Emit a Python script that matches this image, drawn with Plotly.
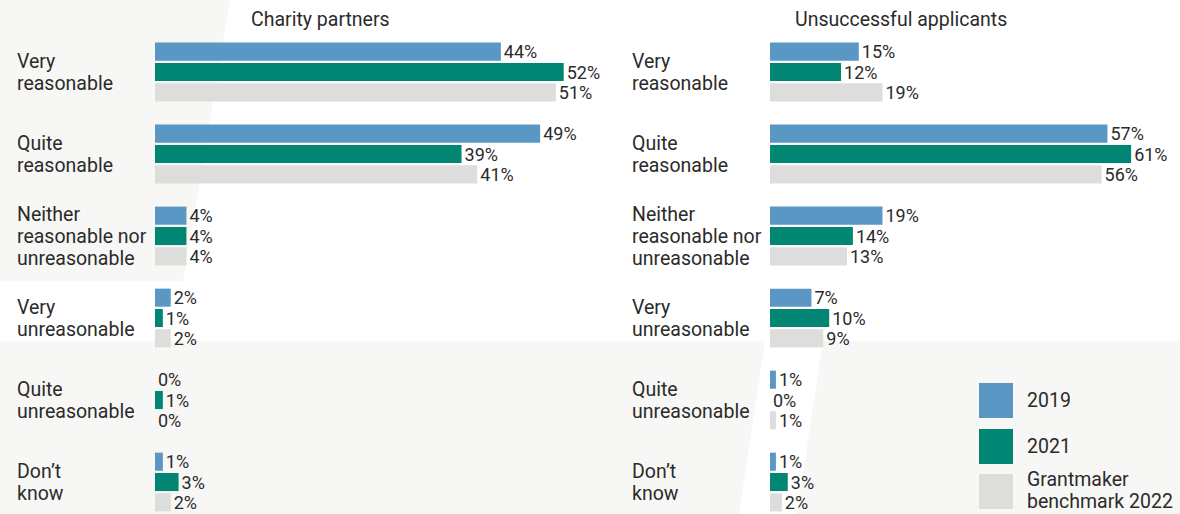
import plotly.graph_objects as go

W, H = 1180, 514

categories = ["Very<br>reasonable", "Quite<br>reasonable",
              "Neither<br>reasonable nor<br>unreasonable", "Very<br>unreasonable",
              "Quite<br>unreasonable", "Don’t<br>know"]
cat_keys = ["Very reasonable", "Quite reasonable", "Neither", "Very unreasonable",
            "Quite unreasonable", "Don't know"]

series_names = ["2019", "2021", "Grantmaker<br>benchmark 2022"]
series_colors = ["#5b97c4", "#008672", "#dddedb"]

charity_2019 = [44, 49, 4, 2, 0, 1]
charity_2021 = [52, 39, 4, 1, 1, 3]
charity_2022 = [51, 41, 4, 2, 0, 2]

unsucc_2019 = [15, 57, 19, 7, 1, 1]
unsucc_2021 = [12, 61, 14, 10, 0, 3]
unsucc_2022 = [19, 56, 13, 9, 1, 2]

panel_titles = ["Charity partners", "Unsuccessful applicants"]

FONT = "Roboto"
FS = 19.5
TXT = "#2b2b2b"
BG = "#f7f7f5"
LINE = 22

fig = go.Figure()

panels = [
    ([charity_2019, charity_2021, charity_2022], "x", "y"),
    ([unsucc_2019, unsucc_2021, unsucc_2022], "x2", "y2"),
]
for vals_list, xa, ya in panels:
    for name, color, vals in zip(series_names, series_colors, vals_list):
        fig.add_trace(go.Bar(
            y=cat_keys, x=vals, orientation="h", name=name,
            marker=dict(color=color, line=dict(width=0)),
            text=[f"{v}%" for v in vals], textposition="outside",
            textfont=dict(family=FONT, size=18, color=TXT),
            constraintext="none", cliponaxis=False,
            xaxis=xa, yaxis=ya, showlegend=False, hoverinfo="skip",
        ))

def px(x):
    return x / W

def py(y):
    return 1 - y / H

top = 31
ydom = [0, py(top)]
yrange = [5.39, -0.5]

fig.update_layout(
    width=W, height=H,
    margin=dict(l=0, r=0, t=0, b=0),
    paper_bgcolor="white", plot_bgcolor="rgba(0,0,0,0)",
    barmode="group", bargap=0.256, bargroupgap=0.11,
    font=dict(family=FONT, size=FS, color=TXT),
    xaxis=dict(domain=[px(155), px(600)], range=[0, 445 / 7.86], visible=False, fixedrange=True),
    xaxis2=dict(domain=[px(770), px(1160)], range=[0, 390 / 5.92], visible=False, fixedrange=True),
    yaxis=dict(domain=ydom, range=yrange, visible=False, anchor="x",
               categoryorder="array", categoryarray=cat_keys),
    yaxis2=dict(domain=ydom, range=yrange, visible=False, anchor="x2",
                categoryorder="array", categoryarray=cat_keys),
)

# background decoration
shapes = []
shapes.append(dict(type="path", xref="paper", yref="paper", layer="below",
                   path=f"M 0 {py(0)} L {px(230)} {py(0)} L {px(183)} {py(281)} L 0 {py(281)} Z",
                   fillcolor=BG, line=dict(width=0)))
shapes.append(dict(type="path", xref="paper", yref="paper", layer="below",
                   path=f"M 0 {py(341)} L {px(765)} {py(341)} L {px(739)} {py(514)} L 0 {py(514)} Z",
                   fillcolor=BG, line=dict(width=0)))
shapes.append(dict(type="path", xref="paper", yref="paper", layer="below",
                   path=f"M {px(823)} {py(341)} L {px(1180)} {py(341)} L {px(1180)} {py(514)} L {px(797)} {py(514)} Z",
                   fillcolor=BG, line=dict(width=0)))

# custom legend swatches
leg_tops = [383, 429, 474]
for c, t in zip(series_colors, leg_tops):
    shapes.append(dict(type="rect", xref="paper", yref="paper", layer="above",
                       x0=px(979), x1=px(1013), y0=py(t), y1=py(t + 35),
                       fillcolor=c, line=dict(width=0)))
fig.update_layout(shapes=shapes)

annotations = []

def add_lines(text, x, y, xref, yref, ycenter_px=None):
    lines = text.split("<br>")
    n = len(lines)
    for j, ln in enumerate(lines):
        off = (j - (n - 1) / 2) * LINE
        if ycenter_px is not None:
            yy, ys = py(ycenter_px + off), 0
        else:
            yy, ys = y, -off
        annotations.append(dict(xref=xref, yref=yref, x=x, y=yy, yshift=ys,
                                xanchor="left", yanchor="middle", align="left",
                                text=ln, showarrow=False,
                                font=dict(family=FONT, size=FS, color=TXT)))

leg_centers = [400, 446, 490]
for name, cy in zip(series_names, leg_centers):
    add_lines(name, px(1025), None, "paper", "paper", ycenter_px=cy)

# category labels (left aligned) for each panel
for xa_px, ya in [(15, "y"), (630, "y2")]:
    for key, lab in zip(cat_keys, categories):
        add_lines(lab, px(xa_px), key, "paper", ya)

# panel titles
for title, cx in zip(panel_titles, [320, 901]):
    annotations.append(dict(xref="paper", yref="paper", x=px(cx), y=py(20),
                            xanchor="center", yanchor="middle", text=title,
                            showarrow=False, font=dict(family=FONT, size=FS, color=TXT)))

fig.update_layout(annotations=annotations)

fig.write_html("out.html")
